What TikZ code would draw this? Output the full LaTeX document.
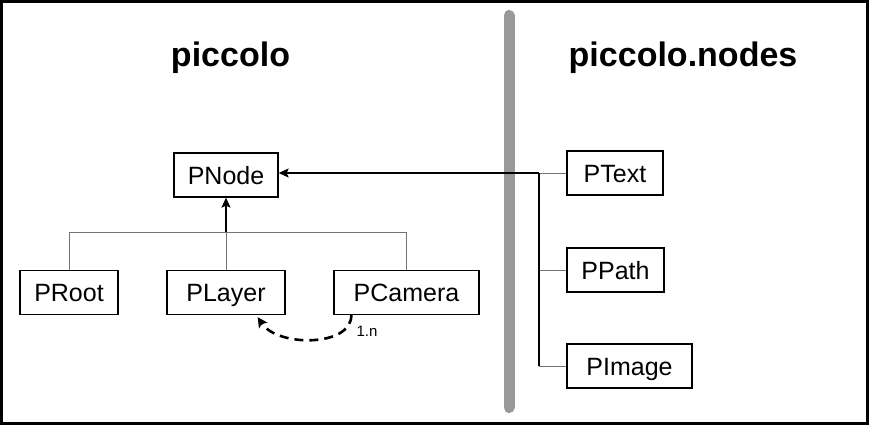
\documentclass[tikz,border=0pt]{standalone}
\usepackage{fontspec}
\setmainfont{Liberation Sans}
\usetikzlibrary{arrows.meta,calc}
\begin{document}
\begin{tikzpicture}[x=1pt,y=-1pt,
  cls/.style={draw=black,line width=1.3pt,minimum height=44pt,inner sep=0pt,text height=18pt,text depth=0pt,font=\fontsize{25}{28}\selectfont},
  title/.style={font=\fontsize{34}{38}\selectfont\bfseries,inner sep=0pt,anchor=base},
  thin/.style={draw=black!55,line width=1pt},
  inherit/.style={draw=black,line width=1.3pt,-{Stealth[length=10pt,width=9pt,inset=2pt]}},
  assoc/.style={draw=black,line width=2.6pt,dash pattern=on 9pt off 6pt,-{Stealth[length=10pt,width=10pt,inset=2pt]}},
  label/.style={font=\fontsize{15}{17}\selectfont,inner sep=0pt}]
\useasboundingbox (0,0) rectangle (869,425);
\draw[line width=3pt] (1.5,1.5) rectangle (867.5,423.5);
\draw[line width=11pt,color=black!40,line cap=round] (509,15.5) -- (509,407.5);
% titles
\node[title] (t1) at (230.5,67) {piccolo};
\node[title] (t2) at (683,67) {piccolo.nodes};
% nodes
\node[cls,minimum width=104pt] (pnode) at (226,175) {PNode};
\node[cls,minimum width=98pt] (proot) at (69,292.5) {PRoot};
\node[cls,minimum width=118pt] (player) at (226,292.5) {PLayer};
\node[cls,minimum width=145pt] (pcam) at (406.5,292.5) {PCamera};
\node[cls,minimum width=96pt] (ptext) at (615,173) {PText};
\node[cls,minimum width=97pt] (ppath) at (615.5,270) {PPath};
\node[cls,minimum width=125pt] (pimage) at (629.5,366) {PImage};
% left hierarchy
\coordinate (busL) at (proot.north |- 0,232);
\coordinate (busM) at (player.north |- 0,232);
\coordinate (busR) at (pcam.north |- 0,232);
\draw[thin] (proot.north) -- (busL) -- (busR) -- (pcam.north);
\draw[thin] (player.north) -- (busM);
\draw[inherit] (busM) -- (pnode.south);
% right hierarchy
\coordinate (jT) at (539,0 |- ptext.west);
\coordinate (jP) at (539,0 |- ppath.west);
\coordinate (jI) at (539,0 |- pimage.west);
\draw[thin] (ptext.west) -- (jT);
\draw[thin] (ppath.west) -- (jP);
\draw[thin] (pimage.west) -- (jI);
\draw[line width=1.3pt] (jI) -- (jT);
\draw[inherit] (jT) -- (pnode.east |- jT);
% association
\coordinate (cs) at ($(pcam.south west)+(18,0)$);
\coordinate (le) at ($(player.south east)+(-28,2)$);
\draw[assoc] (cs) .. controls ($(cs)+(0,32)$) and ($(le)+(20,30)$) .. (le);
\node[label,anchor=base west] (mult) at ($(cs)+(5,21)$) {1.n};
\end{tikzpicture}
\end{document}
